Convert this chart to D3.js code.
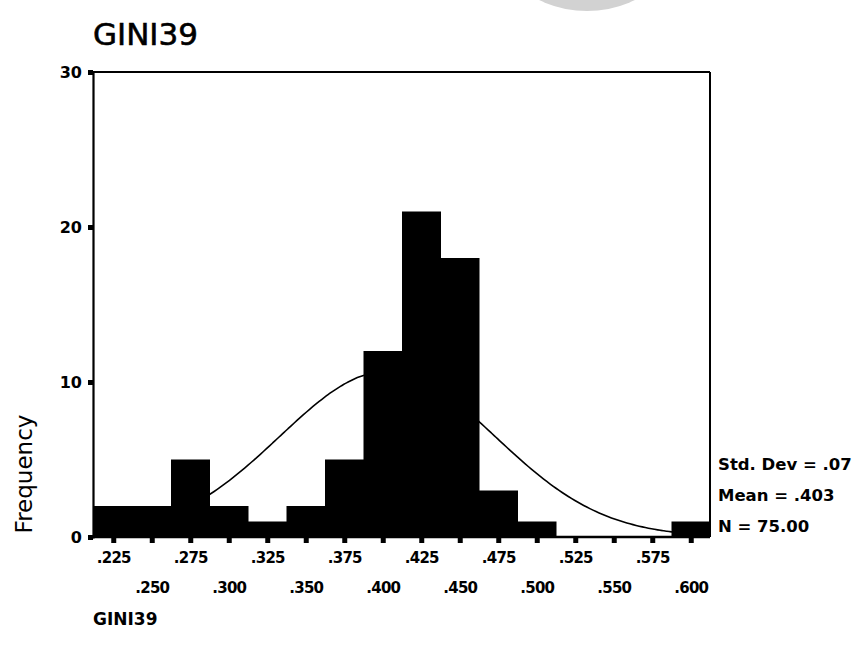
<!DOCTYPE html>
<html>
<head>
<meta charset="utf-8">
<script src="https://cdn.jsdelivr.net/npm/d3@7"></script>
<style>
  html, body { margin: 0; padding: 0; background: #fff; }
  svg { display: block; }
  text { font-family: "DejaVu Sans", Verdana, sans-serif; fill: #000; }
</style>
</head>
<body>
<svg id="chart" width="854" height="655"></svg>
<script>
// ---- data ----
const binCenters = [0.225, 0.250, 0.275, 0.300, 0.325, 0.350, 0.375, 0.400,
                    0.425, 0.450, 0.475, 0.500, 0.525, 0.550, 0.575, 0.600];
const frequencies = [2, 2, 5, 2, 1, 2, 5, 12, 21, 18, 3, 1, 0, 0, 0, 1];
const xTickLabels = [".225", ".250", ".275", ".300", ".325", ".350", ".375", ".400",
                     ".425", ".450", ".475", ".500", ".525", ".550", ".575", ".600"];
const yTicks = [0, 10, 20, 30];
const statLabels = ["Std. Dev = .07", "Mean = .403", "N = 75.00"];
const statSD = 0.07;
const statMean = 0.403;
const statN = 75;
const binWidth = 0.025;
const titleText = "GINI39";
const xAxisTitle = "GINI39";
const yAxisTitle = "Frequency";

// ---- layout ----
const svg = d3.select("#chart");
const plotLeft = 94, plotRight = 710, plotTop = 72, plotBottom = 537;

const x = d3.scaleLinear()
  .domain([binCenters[0] - binWidth / 2, binCenters[binCenters.length - 1] + binWidth / 2])
  .range([plotLeft, plotRight]);
const y = d3.scaleLinear().domain([0, 30]).range([plotBottom, plotTop]);

// decorative grey circle at top
svg.append("circle").attr("cx", 587).attr("cy", -99).attr("r", 110).attr("fill", "#d2d2d2");

// title
svg.append("text").attr("x", 93).attr("y", 45)
  .attr("font-size", 31).attr("stroke", "#000").attr("stroke-width", 0.6)
  .text(titleText);

// normal curve (behind bars), from the displayed statistics
const curveXs = d3.range(x.domain()[0], x.domain()[1] + 1e-9, 0.002);
const normal = v => statN * binWidth / (statSD * Math.sqrt(2 * Math.PI)) *
  Math.exp(-0.5 * Math.pow((v - statMean) / statSD, 2));
svg.append("path")
  .datum(curveXs)
  .attr("fill", "none").attr("stroke", "#000").attr("stroke-width", 1.6)
  .attr("d", d3.line().x(d => x(d)).y(d => y(normal(d))).curve(d3.curveBasis));

// bars
svg.append("g").selectAll("rect")
  .data(binCenters.map((c, i) => ({c, f: frequencies[i]})))
  .join("rect")
  .attr("x", d => x(d.c - binWidth / 2))
  .attr("width", d => x(d.c + binWidth / 2) - x(d.c - binWidth / 2) + 0.5)
  .attr("y", d => y(d.f))
  .attr("height", d => y(0) - y(d.f))
  .attr("fill", "#000");

// frame
svg.append("line").attr("x1", plotLeft - 1).attr("x2", plotRight).attr("y1", plotTop).attr("y2", plotTop)
  .attr("stroke", "#000").attr("stroke-width", 2);
svg.append("line").attr("x1", plotRight).attr("x2", plotRight).attr("y1", plotTop).attr("y2", plotBottom)
  .attr("stroke", "#000").attr("stroke-width", 2);

// y axis
const yAxis = svg.append("g").attr("transform", `translate(${plotLeft - 1},0)`)
  .call(d3.axisLeft(y).tickValues(yTicks).tickSize(5).tickPadding(6).tickFormat(d3.format("d")));
yAxis.select(".domain").attr("stroke", "#000").attr("stroke-width", 2.2);
yAxis.selectAll(".tick line").attr("stroke", "#000").attr("stroke-width", 5);
yAxis.selectAll(".tick text")
  .attr("font-family", "DejaVu Sans, sans-serif")
  .attr("font-size", 16).attr("font-weight", "bold").attr("fill", "#000");

// x axis
const xAxis = svg.append("g").attr("transform", `translate(0,${plotBottom})`)
  .call(d3.axisBottom(x).tickValues(binCenters).tickSize(6).tickSizeOuter(0)
    .tickFormat((d, i) => xTickLabels[i]));
xAxis.select(".domain").attr("stroke", "#000").attr("stroke-width", 2.5)
  .attr("d", `M${plotLeft - 6},0H${plotRight}`);
xAxis.selectAll(".tick line").attr("stroke", "#000").attr("stroke-width", 5);
xAxis.selectAll(".tick text")
  .attr("font-family", "DejaVu Sans, sans-serif")
  .attr("font-size", 15).attr("font-weight", "bold").attr("fill", "#000")
  .attr("letter-spacing", "-0.8px")
  .attr("dy", null)
  .attr("y", (d, i) => i % 2 === 0 ? 26 : 56);

// axis titles
svg.append("text")
  .attr("transform", "translate(32,474) rotate(-90)")
  .attr("text-anchor", "middle").attr("font-size", 23).text(yAxisTitle);
svg.append("text").attr("x", 93).attr("y", 625)
  .attr("font-size", 17).attr("font-weight", "bold").text(xAxisTitle);

// stats
svg.append("g").selectAll("text")
  .data(statLabels).join("text")
  .attr("x", 718).attr("y", (d, i) => 470 + i * 31)
  .attr("font-size", 16.5).attr("font-weight", "bold").text(d => d);
</script>
</body>
</html>
